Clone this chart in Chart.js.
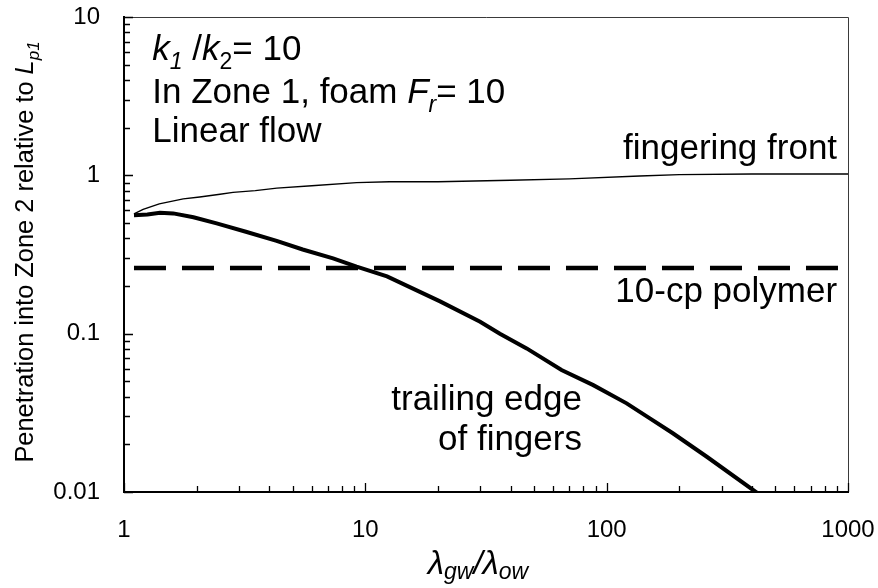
<!DOCTYPE html>
<html>
<head>
<meta charset="utf-8">
<script src="https://cdn.jsdelivr.net/npm/chart.js@4.4.0/dist/chart.umd.min.js"></script>
<style>
  html, body { margin: 0; padding: 0; background: #fff; }
</style>
</head>
<body>
<canvas id="chart" width="878" height="588"></canvas>
<script>
// fingering front (thin line)
const frontX = [1.1, 1.2, 1.4, 1.76, 2.06, 2.5, 2.83, 3.5, 4.3, 6, 9.2, 12.6, 20, 40, 70, 137, 200, 400, 1000];
const frontY = [0.57, 0.61, 0.66, 0.71, 0.73, 0.76, 0.78, 0.8, 0.83, 0.86, 0.9, 0.91, 0.91, 0.93, 0.95, 0.99, 1.01, 1.02, 1.02];

// trailing edge of fingers (thick line)
const trailX = [1.1, 1.25, 1.41, 1.6, 1.94, 2.42, 3.2, 4.29, 5.5, 7.35, 9.2, 12.3, 20.4, 29.9, 36.1, 46.6, 65, 88, 121, 151, 188, 260, 419];
const trailY = [0.56, 0.565, 0.58, 0.575, 0.543, 0.497, 0.44, 0.386, 0.34, 0.299, 0.265, 0.23, 0.16, 0.119, 0.1, 0.0807, 0.059, 0.0473, 0.0363, 0.0292, 0.0235, 0.0167, 0.0099];

// 10-cp polymer reference
const polymerX = [1.1, 1000];
const polymerY = [0.26, 0.26];

const xTickLabels = [1, 10, 100, 1000];
const yTickLabels = [0.01, 0.1, 1, 10];

const FONT = '"Liberation Sans", Arial, Helvetica, sans-serif';

const toPoints = (xs, ys) => xs.map((x, i) => ({ x: x, y: ys[i] }));

// 1..9 × each decade between lo and hi
function decadeTicks(lo, hi) {
  const out = [];
  for (let e = Math.round(Math.log10(lo)); e < Math.round(Math.log10(hi)); e++) {
    for (let m = 1; m < 10; m++) out.push(+(m * Math.pow(10, e)).toPrecision(3));
  }
  out.push(hi);
  return out;
}
const isDecade = (v) => Math.abs(Math.log10(v) - Math.round(Math.log10(v))) < 1e-9;

// text pieces: plain, italic, subscript
const tx = (t, s) => ({ t: t, s: s });
const it = (t, s) => ({ t: t, s: s, i: true });
const sub = (t, s, i, dy) => ({ t: t, s: s, i: i, dy: dy });

function drawRich(ctx, parts, x, y, align) {
  let w = 0;
  parts.forEach(p => {
    ctx.font = (p.i ? 'italic ' : '') + p.s + 'px ' + FONT;
    p.w = ctx.measureText(p.t).width;
    w += p.w;
  });
  let cx = align === 'right' ? x - w : align === 'center' ? x - w / 2 : x;
  ctx.textAlign = 'left';
  ctx.textBaseline = 'alphabetic';
  parts.forEach(p => {
    ctx.font = (p.i ? 'italic ' : '') + p.s + 'px ' + FONT;
    ctx.fillText(p.t, cx, y + (p.dy || 0));
    cx += p.w;
  });
}

const A = 35, AS = 23;
const notes = [
  { x: 1.31, y: 5.35, align: 'left', parts: [it('k', A), sub('1', AS, true, 9), tx(' /', A), it('k', A), sub('2', AS, false, 9), tx('= 10', A)] },
  { x: 1.31, y: 2.86, align: 'left', parts: [tx('In Zone 1, foam ', A), it('F', A), sub('r', AS, true, 9), tx('= 10', A)] },
  { x: 1.31, y: 1.62, align: 'left', parts: [tx('Linear flow', A)] },
  { x: 901, y: 1.27, align: 'right', parts: [tx('fingering front', A)] },
  { x: 901, y: 0.158, align: 'right', parts: [tx('10-cp polymer', A)] },
  { x: 79, y: 0.0329, align: 'right', parts: [tx('trailing edge', A)] },
  { x: 79, y: 0.0184, align: 'right', parts: [tx('of fingers', A)] },
];

const frame = {
  id: 'frame',
  afterDatasetsDraw(chart) {
    const { ctx, chartArea: a, scales: { x, y } } = chart;
    ctx.save();
    // thin top and right edges of the box
    ctx.strokeStyle = '#3a3a3a';
    ctx.lineWidth = 1;
    ctx.beginPath();
    ctx.moveTo(a.left, a.top + 0.5);
    ctx.lineTo(a.right + 0.5, a.top + 0.5);
    ctx.lineTo(a.right + 0.5, a.bottom);
    ctx.stroke();

    // inward tick marks
    ctx.strokeStyle = '#000';
    ctx.lineWidth = 1.3;
    ctx.beginPath();
    x.ticks.forEach(t => {
      const px = Math.round(x.getPixelForValue(t.value)) + 0.5;
      const len = isDecade(t.value) ? 9 : 6;
      ctx.moveTo(px, a.bottom);
      ctx.lineTo(px, a.bottom - len);
    });
    y.ticks.forEach(t => {
      const py = Math.round(y.getPixelForValue(t.value)) + 0.5;
      const len = isDecade(t.value) ? 9 : 6;
      ctx.moveTo(a.left, py);
      ctx.lineTo(a.left + len, py);
    });
    ctx.stroke();

    // labels inside the plot
    ctx.fillStyle = '#000';
    notes.forEach(n => {
      drawRich(ctx, n.parts, x.getPixelForValue(n.x), y.getPixelForValue(n.y), n.align);
    });

    // axis titles
    drawRich(ctx, [it('\u03bb', 33), sub('gw', 23, true, 5), it('/', 33), it('\u03bb', 33), sub('ow', 23, true, 5)],
      a.left + (a.right - a.left) / 2 - 8, 574, 'center');

    ctx.translate(33, 252);
    ctx.rotate(-Math.PI / 2);
    drawRich(ctx, [tx('Penetration into Zone 2 relative to ', 25.4), it('L', 25.4), sub('p1', 17, true, 6)], 0, 0, 'center');
    ctx.restore();
  }
};

const axisCommon = {
  type: 'logarithmic',
  grid: { display: false, drawTicks: false },
  border: { display: true, color: '#000', width: 2 },
};

// keep the plot box fixed; labels may overhang it
const noPad = (s) => { s.paddingTop = 0; s.paddingBottom = 0; s.paddingLeft = 0; s.paddingRight = 0; };

new Chart(document.getElementById('chart'), {
  type: 'scatter',
  plugins: [frame],
  data: {
    datasets: [
      {
        label: 'fingering front',
        data: toPoints(frontX, frontY),
        showLine: true,
        borderColor: '#000',
        borderWidth: 1.4,
        pointRadius: 0,
      },
      {
        label: 'trailing edge of fingers',
        data: toPoints(trailX, trailY),
        showLine: true,
        borderColor: '#000',
        borderWidth: 4,
        pointRadius: 0,
      },
      {
        label: '10-cp polymer',
        data: toPoints(polymerX, polymerY),
        showLine: true,
        borderColor: '#000',
        borderWidth: 4.5,
        borderDash: [32, 16],
        pointRadius: 0,
      },
    ],
  },
  options: {
    responsive: false,
    animation: false,
    devicePixelRatio: 1,
    layout: { padding: { top: 17, right: 30, left: 0, bottom: 0 } },
    plugins: {
      legend: { display: false },
      tooltip: { enabled: false },
    },
    scales: {
      x: {
        ...axisCommon,
        position: 'bottom',
        min: 1,
        max: 1000,
        afterBuildTicks: (s) => { s.ticks = decadeTicks(1, 1000).map(v => ({ value: v })); },
        afterFit: (s) => { s.height = 96; noPad(s); },
        ticks: {
          autoSkip: false,
          maxRotation: 0,
          padding: 24,
          color: '#000',
          font: { family: FONT, size: 24 },
          callback: (v) => (xTickLabels.some(l => Math.abs(l - v) < 1e-9) ? String(v) : ''),
        },
      },
      y: {
        ...axisCommon,
        position: 'left',
        min: 0.01,
        max: 10,
        afterBuildTicks: (s) => { s.ticks = decadeTicks(0.01, 10).map(v => ({ value: v })); },
        afterFit: (s) => { s.width = 124; noPad(s); },
        ticks: {
          autoSkip: false,
          padding: 24,
          color: '#000',
          font: { family: FONT, size: 24 },
          callback: (v) => (yTickLabels.some(l => Math.abs(l - v) < 1e-12) ? String(v) : ''),
        },
      },
    },
  },
});
</script>
</body>
</html>
